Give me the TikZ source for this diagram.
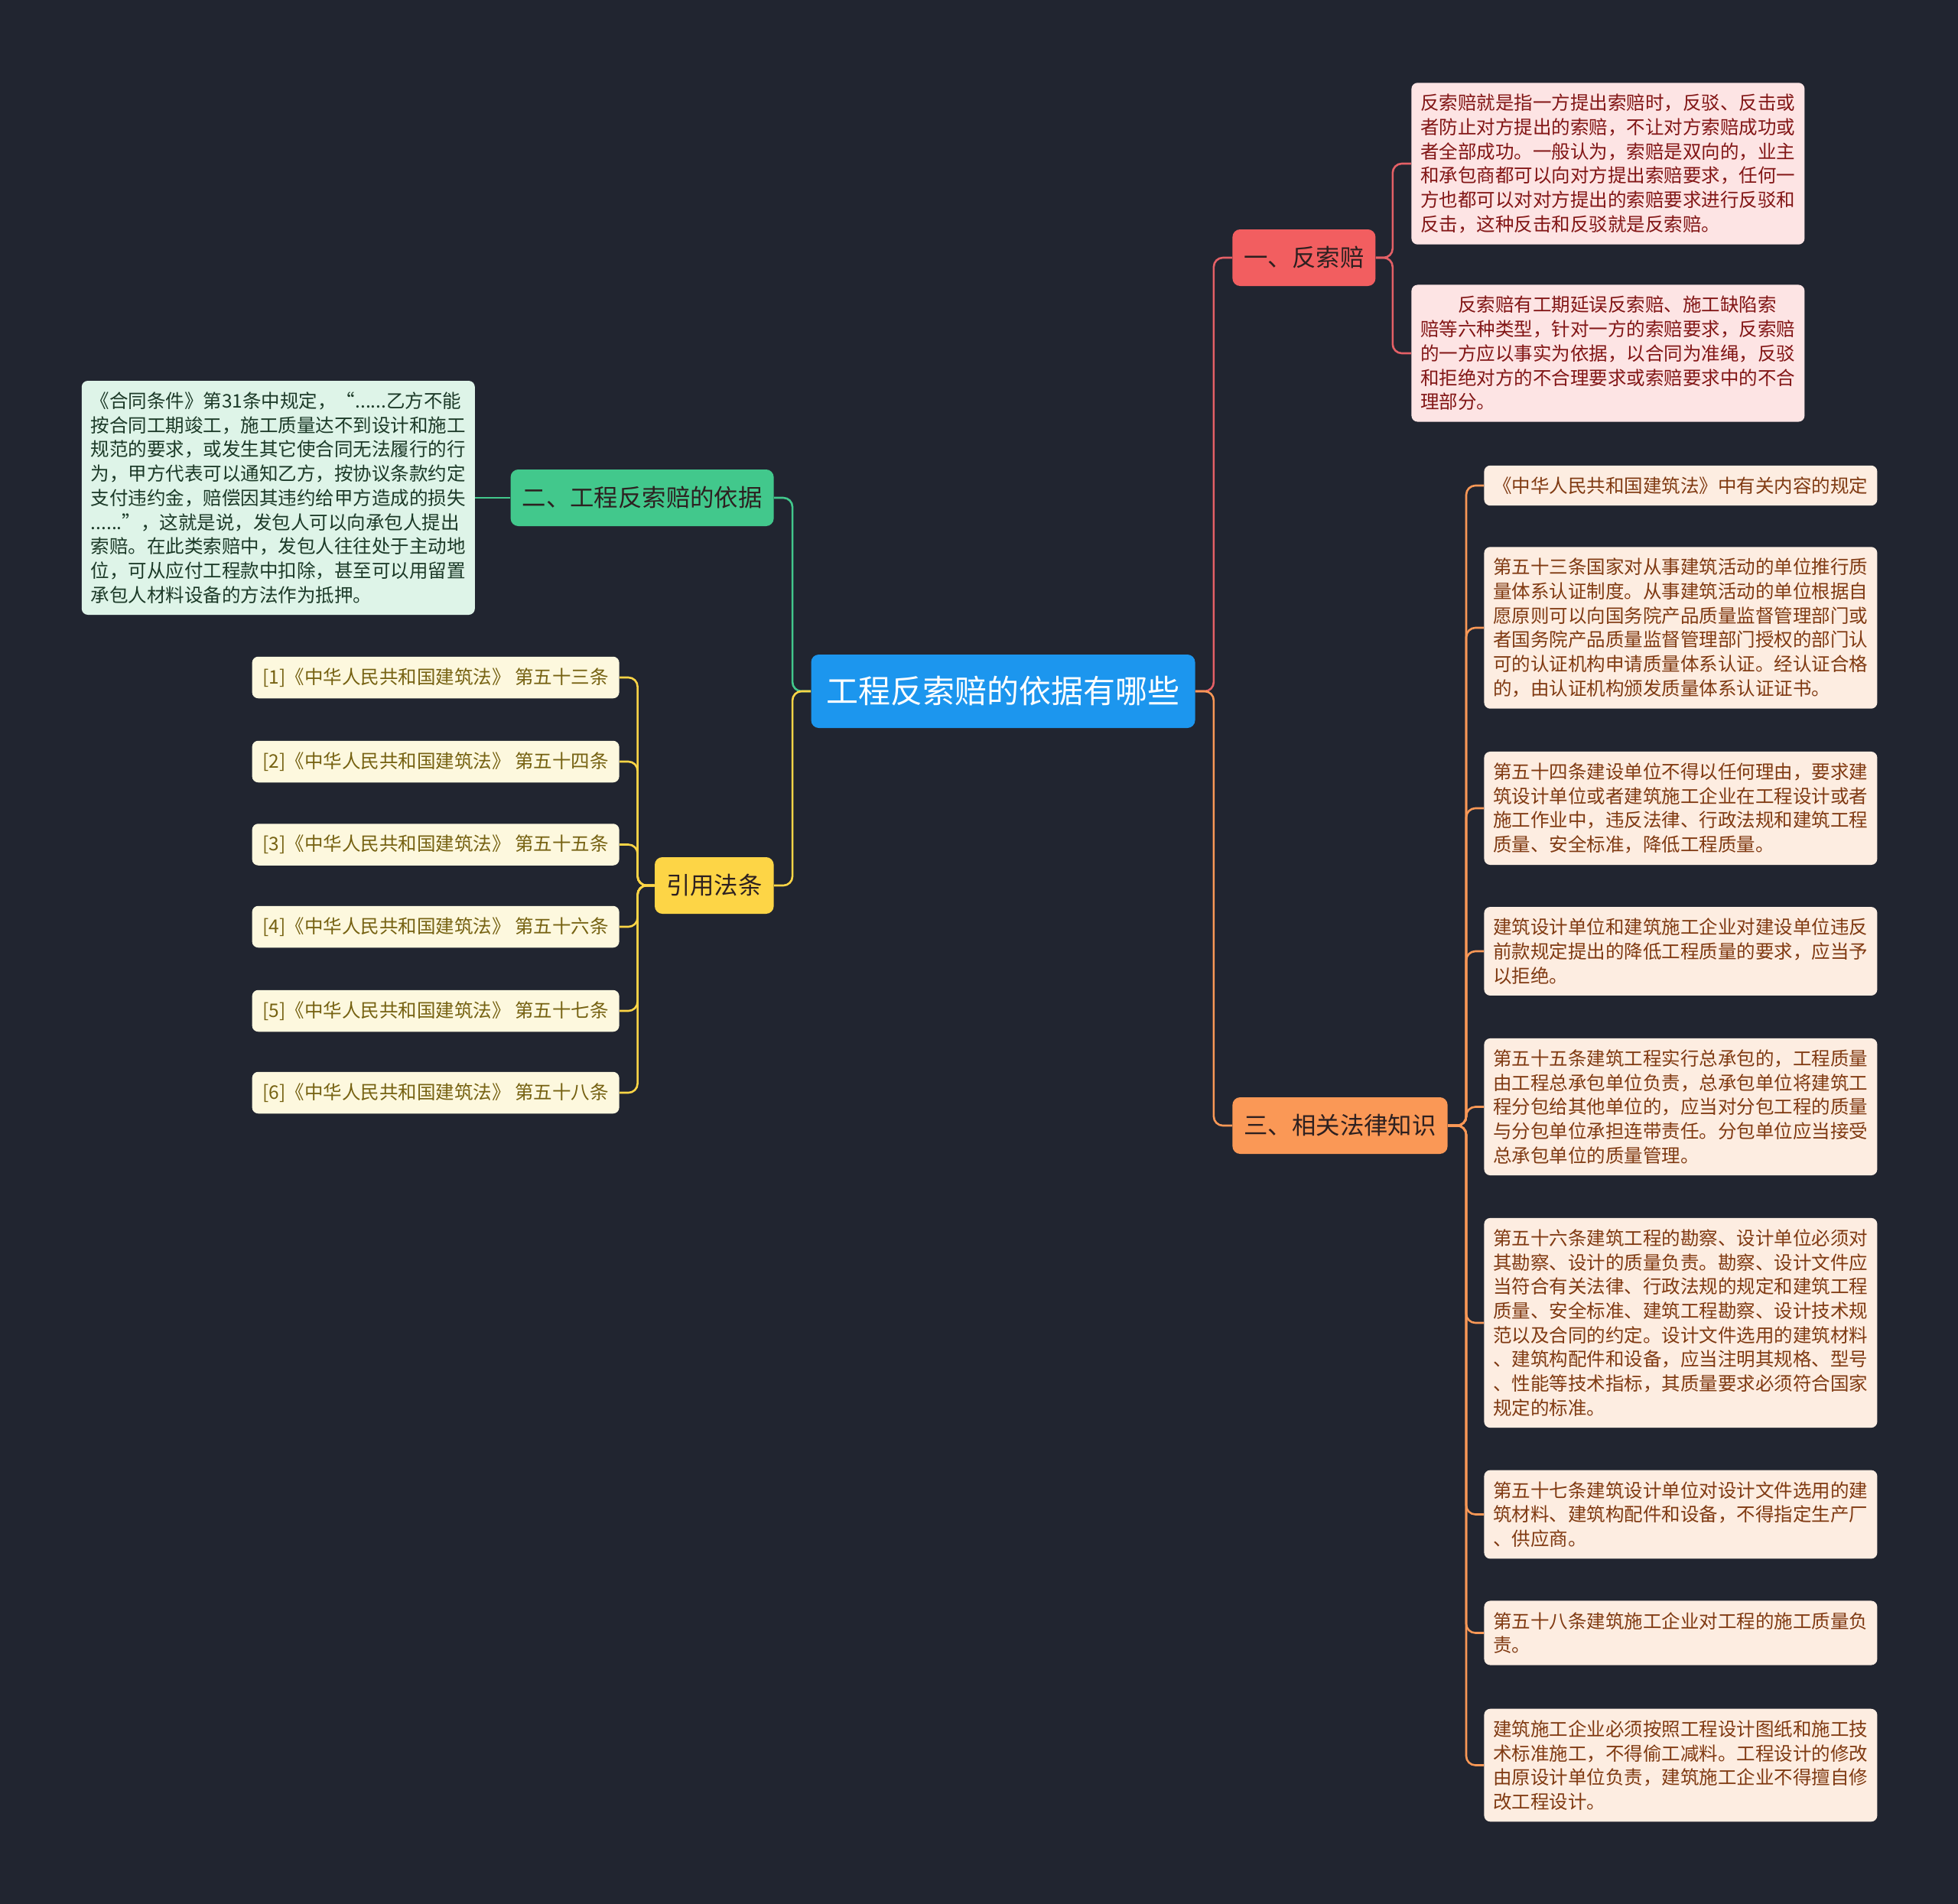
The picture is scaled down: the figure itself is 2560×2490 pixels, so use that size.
\documentclass[tikz,border=0pt]{standalone}
\usepackage{fontspec}
\setmainfont{Noto Sans CJK SC}
\usepackage{tikz}
\usetikzlibrary{positioning}
\usepackage{xcolor}
\definecolor{bgdark}{RGB}{33,37,48}
\definecolor{rootblue}{RGB}{28,150,238}
\definecolor{redmain}{RGB}{242,94,96}
\definecolor{redline}{RGB}{228,96,102}
\definecolor{pinkfill}{RGB}{253,228,228}
\definecolor{pinktext}{RGB}{130,22,22}
\definecolor{orangemain}{RGB}{250,152,86}
\definecolor{peachfill}{RGB}{253,237,225}
\definecolor{peachtext}{RGB}{128,58,18}
\definecolor{greenmain}{RGB}{66,200,140}
\definecolor{mintfill}{RGB}{222,244,232}
\definecolor{minttext}{RGB}{28,58,40}
\definecolor{yellowmain}{RGB}{253,213,70}
\definecolor{creamfill}{RGB}{253,248,222}
\definecolor{creamtext}{RGB}{118,98,18}
\definecolor{branchtext}{RGB}{45,32,32}

\begin{document}
\begin{tikzpicture}[
  x=0.5pt, y=-0.5pt,
  topic/.style={rectangle, fill=rootblue, rounded corners=5pt, text=white, minimum height=48pt, inner xsep=10pt, font=\fontsize{21pt}{25pt}\selectfont},
  branch/.style={rectangle, rounded corners=5pt, minimum height=37pt, inner xsep=7.5pt, text=branchtext, font=\fontsize{15.7pt}{19pt}\selectfont},
  leaf/.style={rectangle, rounded corners=4pt, inner xsep=6pt, inner ysep=7.4pt, text width=245pt, align=left, font=\fontsize{12.25pt}{15.85pt}\selectfont},
  law/.style={rectangle, rounded corners=4pt, fill=creamfill, text=creamtext, minimum width=240pt, inner xsep=6pt, inner ysep=7.4pt, font=\fontsize{12.25pt}{15.85pt}\selectfont},
  link/.style={line width=1.3pt, rounded corners=6pt}
]

\fill[bgdark] (0,0) rectangle (2560,2490);
\useasboundingbox (0,0) rectangle (2560,2490);

% Core Node
\node[topic] (root) at (1311.5,904) {工程反索赔的依据有哪些};

% Branch 1: 反索赔
\node[branch, fill=redmain, anchor=west] (fz) at (1611,337) {一、反索赔};
\node[leaf, fill=pinkfill, text=pinktext, anchor=west] (fz1) at (1845,214) {反索赔就是指一方提出索赔时，反驳、反击或\\者防止对方提出的索赔，不让对方索赔成功或\\者全部成功。一般认为，索赔是双向的，业主\\和承包商都可以向对方提出索赔要求，任何一\\方也都可以对对方提出的索赔要求进行反驳和\\反击，这种反击和反驳就是反索赔。};
\node[leaf, fill=pinkfill, text=pinktext, anchor=west] (fz2) at (1845,462) {\hspace*{2em}反索赔有工期延误反索赔、施工缺陷索\\赔等六种类型，针对一方的索赔要求，反索赔\\的一方应以事实为依据，以合同为准绳，反驳\\和拒绝对方的不合理要求或索赔要求中的不合\\理部分。};

% Branch 2: 依据
\node[branch, fill=greenmain, anchor=east] (yj) at (1012,651) {二、工程反索赔的依据};
\node[leaf, fill=mintfill, text=minttext, left=23pt of yj] (yj1) {《合同条件》第31条中规定，“......乙方不能\\按合同工期竣工，施工质量达不到设计和施工\\规范的要求，或发生其它使合同无法履行的行\\为，甲方代表可以通知乙方，按协议条款约定\\支付违约金，赔偿因其违约给甲方造成的损失\\......”，这就是说，发包人可以向承包人提出\\索赔。在此类索赔中，发包人往往处于主动地\\位，可从应付工程款中扣除，甚至可以用留置\\承包人材料设备的方法作为抵押。};

% Branch 3: 法律知识
\node[branch, fill=orangemain, anchor=west] (xg) at (1611,1472) {三、相关法律知识};
\node[leaf, fill=peachfill, text=peachtext, anchor=west] (xg0) at (1940,635) {《中华人民共和国建筑法》中有关内容的规定};
\node[leaf, fill=peachfill, text=peachtext, anchor=west] (xg1) at (1940,821) {第五十三条国家对从事建筑活动的单位推行质\\量体系认证制度。从事建筑活动的单位根据自\\愿原则可以向国务院产品质量监督管理部门或\\者国务院产品质量监督管理部门授权的部门认\\可的认证机构申请质量体系认证。经认证合格\\的，由认证机构颁发质量体系认证证书。};
\node[leaf, fill=peachfill, text=peachtext, anchor=west] (xg2) at (1940,1057) {第五十四条建设单位不得以任何理由，要求建\\筑设计单位或者建筑施工企业在工程设计或者\\施工作业中，违反法律、行政法规和建筑工程\\质量、安全标准，降低工程质量。};
\node[leaf, fill=peachfill, text=peachtext, anchor=west] (xg3) at (1940,1244) {建筑设计单位和建筑施工企业对建设单位违反\\前款规定提出的降低工程质量的要求，应当予\\以拒绝。};
\node[leaf, fill=peachfill, text=peachtext, anchor=west] (xg4) at (1940,1447.5) {第五十五条建筑工程实行总承包的，工程质量\\由工程总承包单位负责，总承包单位将建筑工\\程分包给其他单位的，应当对分包工程的质量\\与分包单位承担连带责任。分包单位应当接受\\总承包单位的质量管理。};
\node[leaf, fill=peachfill, text=peachtext, anchor=west] (xg5) at (1940,1730) {第五十六条建筑工程的勘察、设计单位必须对\\其勘察、设计的质量负责。勘察、设计文件应\\当符合有关法律、行政法规的规定和建筑工程\\质量、安全标准、建筑工程勘察、设计技术规\\范以及合同的约定。设计文件选用的建筑材料\\、建筑构配件和设备，应当注明其规格、型号\\、性能等技术指标，其质量要求必须符合国家\\规定的标准。};
\node[leaf, fill=peachfill, text=peachtext, anchor=west] (xg6) at (1940,1980.5) {第五十七条建筑设计单位对设计文件选用的建\\筑材料、建筑构配件和设备，不得指定生产厂\\、供应商。};
\node[leaf, fill=peachfill, text=peachtext, anchor=west] (xg7) at (1940,2135.5) {第五十八条建筑施工企业对工程的施工质量负\\责。};
\node[leaf, fill=peachfill, text=peachtext, anchor=west] (xg8) at (1940,2308.5) {建筑施工企业必须按照工程设计图纸和施工技\\术标准施工，不得偷工减料。工程设计的修改\\由原设计单位负责，建筑施工企业不得擅自修\\改工程设计。};

% Branch 4: 引用法条
\node[branch, fill=yellowmain, anchor=east] (yy) at (1012,1158) {引用法条};
\node[law, anchor=east] (yy1) at (810,886) {[1]《中华人民共和国建筑法》 第五十三条};
\node[law, anchor=east] (yy2) at (810,996) {[2]《中华人民共和国建筑法》 第五十四条};
\node[law, anchor=east] (yy3) at (810,1104.5) {[3]《中华人民共和国建筑法》 第五十五条};
\node[law, anchor=east] (yy4) at (810,1212) {[4]《中华人民共和国建筑法》 第五十六条};
\node[law, anchor=east] (yy5) at (810,1322) {[5]《中华人民共和国建筑法》 第五十七条};
\node[law, anchor=east] (yy6) at (810,1429) {[6]《中华人民共和国建筑法》 第五十八条};

% Connectors
\draw[link, redline] (root.east) -- ++(12pt,0) |- (fz.west);
\draw[link, orangemain] (root.east) -- ++(12pt,0) |- (xg.west);
\draw[link, greenmain] (root.west) -- ++(-12pt,0) |- (yj.east);
\draw[link, yellowmain] (root.west) -- ++(-12pt,0) |- (yy.east);

\draw[link, redline] (fz.east) -- ++(11pt,0) |- (fz1.west);
\draw[link, redline] (fz.east) -- ++(11pt,0) |- (fz2.west);
\draw[link, greenmain] (yj.west) -- (yj1.east);
\draw[link, orangemain] (xg.east) -- ++(12pt,0) |- (xg0.west);
\draw[link, orangemain] (xg.east) -- ++(12pt,0) |- (xg1.west);
\draw[link, orangemain] (xg.east) -- ++(12pt,0) |- (xg2.west);
\draw[link, orangemain] (xg.east) -- ++(12pt,0) |- (xg3.west);
\draw[link, orangemain] (xg.east) -- ++(12pt,0) |- (xg4.west);
\draw[link, orangemain] (xg.east) -- ++(12pt,0) |- (xg5.west);
\draw[link, orangemain] (xg.east) -- ++(12pt,0) |- (xg6.west);
\draw[link, orangemain] (xg.east) -- ++(12pt,0) |- (xg7.west);
\draw[link, orangemain] (xg.east) -- ++(12pt,0) |- (xg8.west);
\draw[link, yellowmain] (yy.west) -- ++(-11pt,0) |- (yy1.east);
\draw[link, yellowmain] (yy.west) -- ++(-11pt,0) |- (yy2.east);
\draw[link, yellowmain] (yy.west) -- ++(-11pt,0) |- (yy3.east);
\draw[link, yellowmain] (yy.west) -- ++(-11pt,0) |- (yy4.east);
\draw[link, yellowmain] (yy.west) -- ++(-11pt,0) |- (yy5.east);
\draw[link, yellowmain] (yy.west) -- ++(-11pt,0) |- (yy6.east);

\end{tikzpicture}
\end{document}
